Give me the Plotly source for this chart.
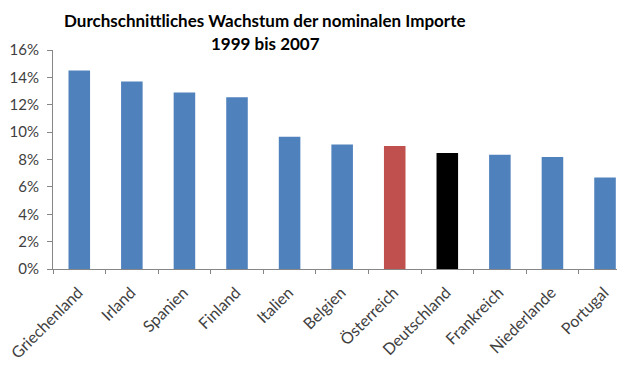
import plotly.graph_objects as go

categories = ["Griechenland", "Irland", "Spanien", "Finland", "Italien", "Belgien",
              "Österreich", "Deutschland", "Frankreich", "Niederlande", "Portugal"]
values = [0.145, 0.137, 0.129, 0.1255, 0.0966, 0.091, 0.0898, 0.0847, 0.0834, 0.0818, 0.0669]
colors = ["#4F81BD"] * 6 + ["#C0504D", "#000000"] + ["#4F81BD"] * 3
title_lines = ["Durchschnittliches Wachstum der nominalen Importe", "1999 bis 2007"]

fig = go.Figure(go.Bar(x=categories, y=values, marker=dict(color=colors, line=dict(width=0)),
                       width=0.41))

# page has an 8px body margin, so figure coordinates are reference minus 8
font_family = "Lato, 'Open Sans', sans-serif"
fig.update_layout(
    width=617, height=362,
    margin=dict(l=45, r=0, t=42, b=101, autoexpand=False),
    paper_bgcolor="white", plot_bgcolor="white",
    showlegend=False,
    font=dict(family=font_family, size=15, color="#404040"),
)
for i, line in enumerate(title_lines):
    fig.add_annotation(text="<b>" + line + "</b>", xref="paper", yref="paper",
                       x=(257 - 45) / 572, y=1 + (42 - (12 + 23.3 * i)) / 219.3,
                       xanchor="center", yanchor="middle", showarrow=False,
                       font=dict(family=font_family, size=17, color="#000000"))
fig.update_xaxes(
    range=[-0.5, 10.38], showline=True, linecolor="#868686", linewidth=1,
    ticks="outside", tickson="boundaries", ticklen=4, tickcolor="#868686",
    tickangle=-45, showgrid=False, tickfont=dict(size=16, color="#404040"),
    ticklabelshift=-1, ticklabelstandoff=7,
    automargin=False,
)
fig.update_yaxes(
    range=[0, 0.16], dtick=0.02, tickformat=".0%", showline=True, linecolor="#868686",
    linewidth=1, ticks="outside", ticklen=5, tickcolor="#868686", showgrid=False,
    zeroline=False, tickfont=dict(size=15, color="#404040"), automargin=False,
    ticklabelstandoff=5,
)
fig.write_html("out.html")
